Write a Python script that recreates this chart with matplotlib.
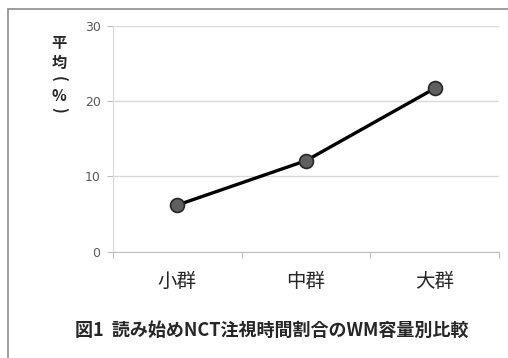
import matplotlib
matplotlib.use("Agg")
import matplotlib.pyplot as plt
from matplotlib.patches import Rectangle

categories = ["小群", "中群", "大群"]
values = [6.2, 12.1, 21.7]
yticks = [0, 10, 20, 30]
ylabel_chars = ["平", "均", "(", "%", ")"]
title = "図1  読み始めNCT注視時間割合のWM容量別比較"

plt.rcParams['font.family'] = ['Noto Sans CJK JP', 'DejaVu Sans']

W, H = 508, 358
fig = plt.figure(figsize=(W / 100, H / 100), dpi=100)

# outer chart frame (extends past right/bottom edges)
fig.patches.append(Rectangle((8 / W, -0.1), 1.2, 1 - 9 / H + 0.1, transform=fig.transFigure,
                             fill=False, edgecolor="#8c8c8c", linewidth=1.2))

ax = fig.add_axes([113 / W, 1 - 251.7 / H, (499 - 113) / W, (251.7 - 26) / H])
x = list(range(len(categories)))
ax.plot(x, values, color="black", linewidth=2.4, marker="o", markersize=10,
        markerfacecolor="#5f5f5f", markeredgecolor="#262626", markeredgewidth=1.2, zorder=3)

ax.set_xlim(-0.5, len(categories) - 0.5)
ax.set_ylim(0, 30)
ax.set_yticks(yticks)
ax.set_yticklabels([str(v) for v in yticks], fontsize=9, color="#595959", family=['DejaVu Sans'])
ax.yaxis.grid(True, color="#d9d9d9", linewidth=1)
ax.set_axisbelow(True)

ax.set_xticks([i - 0.5 for i in range(len(categories) + 1)])
ax.set_xticklabels([])
ax.set_xticks(x, minor=True)
ax.set_xticklabels(categories, minor=True, fontsize=14)
ax.tick_params(axis="x", which="major", length=4, color="#bfbfbf", direction="out")
ax.tick_params(axis="x", which="minor", length=0, pad=14, labelcolor="#262626")
ax.tick_params(axis="y", length=4, color="#bfbfbf", pad=5)

for s in ["top", "right"]:
    ax.spines[s].set_visible(False)
ax.spines["left"].set_color("#d9d9d9")
ax.spines["bottom"].set_color("#bfbfbf")

ylab_y = [43, 63, 79, 96, 110]
for ch, yy in zip(ylabel_chars, ylab_y):
    rot = 270 if ch in "()" else 0
    fig.text(59 / W, 1 - yy / H, ch, ha="center", va="center", fontsize=11,
             fontweight="bold", color="#262626", rotation=rot, rotation_mode="anchor")
fig.text(272 / W, 1 - 330 / H, title, ha="center", va="center", fontsize=13,
         fontweight="bold", color="#262626")

fig.savefig("out.png", dpi=100)
